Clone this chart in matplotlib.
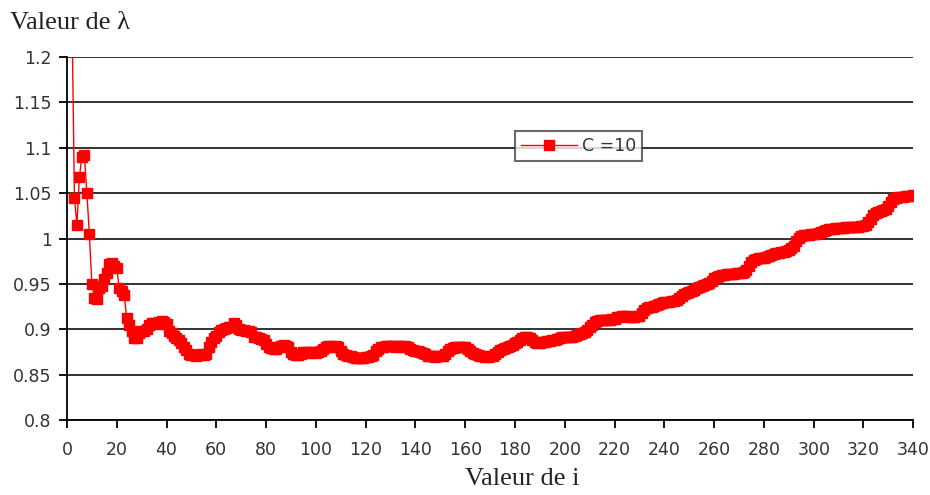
import numpy as np
import matplotlib.pyplot as plt
from matplotlib.ticker import FuncFormatter

# valeurs de lambda pour i = 1 .. 340 (C = 10)
lam = [
    1.400, 1.250, 1.045, 1.015, 1.068, 1.090, 1.092, 1.050, 1.005, 0.950,
    0.935, 0.933, 0.945, 0.948, 0.955, 0.962, 0.972, 0.973, 0.970, 0.968,
    0.945, 0.942, 0.938, 0.912, 0.905, 0.898, 0.890, 0.890, 0.896, 0.898,
    0.898, 0.900, 0.905, 0.907, 0.907, 0.906, 0.908, 0.909, 0.908, 0.906,
    0.898, 0.896, 0.893, 0.890, 0.888, 0.885, 0.880, 0.877, 0.873, 0.872,
    0.872, 0.871, 0.872, 0.873, 0.872, 0.873, 0.880, 0.886, 0.890, 0.893,
    0.897, 0.899, 0.900, 0.901, 0.902, 0.903, 0.907, 0.905, 0.900, 0.899,
    0.899, 0.898, 0.898, 0.897, 0.892, 0.891, 0.890, 0.889, 0.888, 0.884,
    0.880, 0.879, 0.878, 0.878, 0.880, 0.882, 0.883, 0.882, 0.880, 0.875,
    0.873, 0.872, 0.872, 0.873, 0.875, 0.875, 0.874, 0.875, 0.875, 0.874,
    0.875, 0.876, 0.878, 0.880, 0.882, 0.882, 0.881, 0.882, 0.880, 0.876,
    0.873, 0.872, 0.871, 0.870, 0.869, 0.868, 0.868, 0.868, 0.868, 0.869,
    0.869, 0.870, 0.872, 0.876, 0.878, 0.880, 0.881, 0.882, 0.882, 0.882,
    0.882, 0.881, 0.882, 0.882, 0.881, 0.882, 0.880, 0.878, 0.877, 0.876,
    0.876, 0.875, 0.874, 0.873, 0.871, 0.870, 0.870, 0.869, 0.870, 0.870,
    0.871, 0.873, 0.876, 0.878, 0.879, 0.880, 0.880, 0.881, 0.880, 0.880,
    0.878, 0.876, 0.874, 0.873, 0.872, 0.871, 0.870, 0.869, 0.869, 0.870,
    0.871, 0.873, 0.875, 0.877, 0.878, 0.879, 0.881, 0.882, 0.883, 0.885,
    0.886, 0.888, 0.890, 0.891, 0.891, 0.890, 0.888, 0.886, 0.885, 0.885,
    0.886, 0.886, 0.887, 0.887, 0.888, 0.888, 0.889, 0.890, 0.891, 0.891,
    0.891, 0.891, 0.892, 0.893, 0.894, 0.895, 0.896, 0.897, 0.899, 0.902,
    0.905, 0.908, 0.909, 0.910, 0.910, 0.910, 0.910, 0.910, 0.911, 0.911,
    0.913, 0.914, 0.915, 0.915, 0.915, 0.914, 0.914, 0.914, 0.915, 0.915,
    0.918, 0.921, 0.923, 0.925, 0.925, 0.926, 0.927, 0.928, 0.929, 0.930,
    0.930, 0.930, 0.931, 0.931, 0.932, 0.934, 0.937, 0.939, 0.940, 0.941,
    0.942, 0.943, 0.945, 0.947, 0.948, 0.949, 0.950, 0.951, 0.953, 0.956,
    0.958, 0.959, 0.960, 0.960, 0.961, 0.961, 0.961, 0.961, 0.962, 0.962,
    0.962, 0.963, 0.965, 0.970, 0.974, 0.976, 0.977, 0.978, 0.978, 0.979,
    0.980, 0.981, 0.982, 0.983, 0.984, 0.984, 0.985, 0.985, 0.986, 0.987,
    0.989, 0.992, 0.997, 1.001, 1.003, 1.004, 1.004, 1.004, 1.005, 1.005,
    1.005, 1.006, 1.007, 1.008, 1.009, 1.010, 1.011, 1.011, 1.012, 1.012,
    1.012, 1.012, 1.013, 1.013, 1.013, 1.013, 1.013, 1.013, 1.014, 1.014,
    1.015, 1.018, 1.022, 1.026, 1.028, 1.029, 1.030, 1.031, 1.033, 1.036,
    1.040, 1.043, 1.045, 1.046, 1.046, 1.046, 1.047, 1.047, 1.047, 1.048,
]
i_vals = np.arange(1, len(lam) + 1)

x_ticks = list(range(0, 341, 20))
y_ticks = [0.8, 0.85, 0.9, 0.95, 1.0, 1.05, 1.1, 1.15, 1.2]
serie = 'C =10'

fig = plt.figure(figsize=(9.3, 4.95), dpi=100)
ax = fig.add_axes([0.072, 0.1515, 0.91, 0.7333])

ax.plot(i_vals, lam, color='#ff0000', lw=1.0, marker='s', ms=7,
        mec='#ff0000', mfc='#ff0000', label=serie)

ax.set_xlim(0, 340)
ax.set_ylim(0.8, 1.2)
ax.set_xticks(x_ticks)
ax.set_yticks(y_ticks)
ax.yaxis.set_major_formatter(FuncFormatter(lambda v, p: '%g' % v))

# quadrillage horizontal noir
ax.grid(axis='y', color='#222222', lw=1.3)
ax.set_axisbelow(True)

for s in ['top', 'right']:
    ax.spines[s].set_visible(False)
for s in ['left', 'bottom']:
    ax.spines[s].set_color('black')
    ax.spines[s].set_linewidth(1.3)

ax.tick_params(axis='both', direction='out', length=6, width=1.3,
               colors='black', labelsize=12.5, labelcolor='#333333')
ax.tick_params(axis='x', pad=9)
ax.tick_params(axis='y', pad=5)

fig.text(0.011, 0.953, 'Valeur de λ', family='Liberation Serif', fontsize=19,
         color='#222222', ha='left', va='center')
fig.text(0.562, 0.033, 'Valeur de i', family='Liberation Serif', fontsize=19,
         color='#222222', ha='center', va='center')

leg = ax.legend(loc='upper left', bbox_to_anchor=(515 / 930, 1 - 131 / 495),
                bbox_transform=fig.transFigure, frameon=True, fancybox=False,
                fontsize=12.5, handlelength=3.2, borderpad=0.35,
                handletextpad=0.3, borderaxespad=0)
leg.get_frame().set_edgecolor('#444444')
leg.get_frame().set_linewidth(1.5)
for t in leg.get_texts():
    t.set_color('#333333')

fig.savefig('out.png', dpi=100)
